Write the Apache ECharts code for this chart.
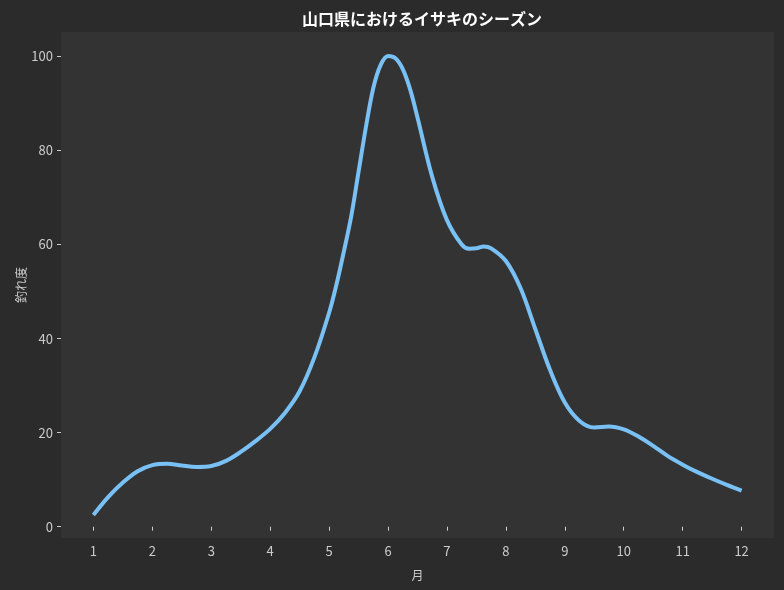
<!DOCTYPE html>
<html>
<head>
<meta charset="utf-8">
<script src="https://cdn.jsdelivr.net/npm/echarts@6/dist/echarts.min.js"></script>
<style>
html,body{margin:0;padding:0;background:#2b2b2b;}
#c{width:784px;height:590px;}
</style>
</head>
<body>
<div id="c"></div>
<script>
const months = [1.00,1.25,1.50,1.75,2.00,2.25,2.50,2.75,3.00,3.25,3.50,3.75,4.00,4.25,4.50,4.75,5.00,5.125,5.25,5.375,5.50,5.625,5.75,5.875,6.00,6.125,6.25,6.375,6.50,6.75,7.00,7.25,7.375,7.50,7.625,7.75,8.00,8.25,8.50,8.75,9.00,9.25,9.50,9.75,10.00,10.25,10.50,10.75,11.00,11.25,11.50,11.75,12.00];
const catchRate = [2.5,6.3,9.4,11.8,13.1,13.4,13.0,12.7,12.9,14.0,15.9,18.2,20.8,24.2,28.8,36.0,45.5,51.5,58.5,66.0,75.5,85.0,93.3,98.2,100.1,99.6,97.3,93.0,87.0,74.4,65.2,60.0,59.1,59.2,59.6,59.2,56.5,50.7,42.0,33.3,26.4,22.5,21.1,21.3,20.7,19.2,17.2,15.0,13.2,11.6,10.2,8.9,7.7];
const xTicks = [1,2,3,4,5,6,7,8,9,10,11,12];
const yTicks = [0,20,40,60,80,100];

const font = '"Noto Sans CJK JP", "Noto Sans", sans-serif';
const chart = echarts.init(document.getElementById('c'));
chart.setOption({
  backgroundColor: '#2b2b2b',
  animation: false,
  title: {
    text: '山口県におけるイサキのシーズン',
    left: 417, textAlign: 'center', top: 6,
    textStyle: {color: '#ffffff', fontSize: 16, fontWeight: 'bold', fontFamily: font}
  },
  grid: {left: 61, right: 10, top: 32, bottom: 52, show: true, backgroundColor: '#333333', borderWidth: 0},
  xAxis: {
    type: 'value', min: 0.45, max: 12.55,
    name: '月', nameLocation: 'middle', nameGap: 31,
    nameTextStyle: {color: '#cccccc', fontSize: 12, fontFamily: font},
    axisLine: {show: false},
    splitLine: {show: false},
    axisTick: {show: true, length: 4, inside: false, customValues: xTicks, lineStyle: {color: '#cccccc'}},
    axisLabel: {customValues: xTicks, color: '#cccccc', fontSize: 13, fontFamily: font, margin: 7}
  },
  yAxis: {
    type: 'value', min: -2.4, max: 105.2,
    name: '釣れ度', nameLocation: 'middle', nameGap: 34, nameRotate: 90, nameMoveOverlap: false,
    nameTextStyle: {color: '#cccccc', fontSize: 12, fontFamily: font},
    axisLine: {show: false},
    splitLine: {show: false},
    axisTick: {show: true, length: 4, customValues: yTicks, lineStyle: {color: '#cccccc'}},
    axisLabel: {customValues: yTicks, color: '#cccccc', fontSize: 13, fontFamily: font, margin: 8}
  },
  series: [{
    type: 'line',
    data: months.map((m, i) => [m, catchRate[i]]),
    smooth: 0.35,
    showSymbol: false,
    lineStyle: {color: '#79c1f5', width: 4},
    itemStyle: {color: '#79c1f5'}
  }]
});
</script>
</body>
</html>
